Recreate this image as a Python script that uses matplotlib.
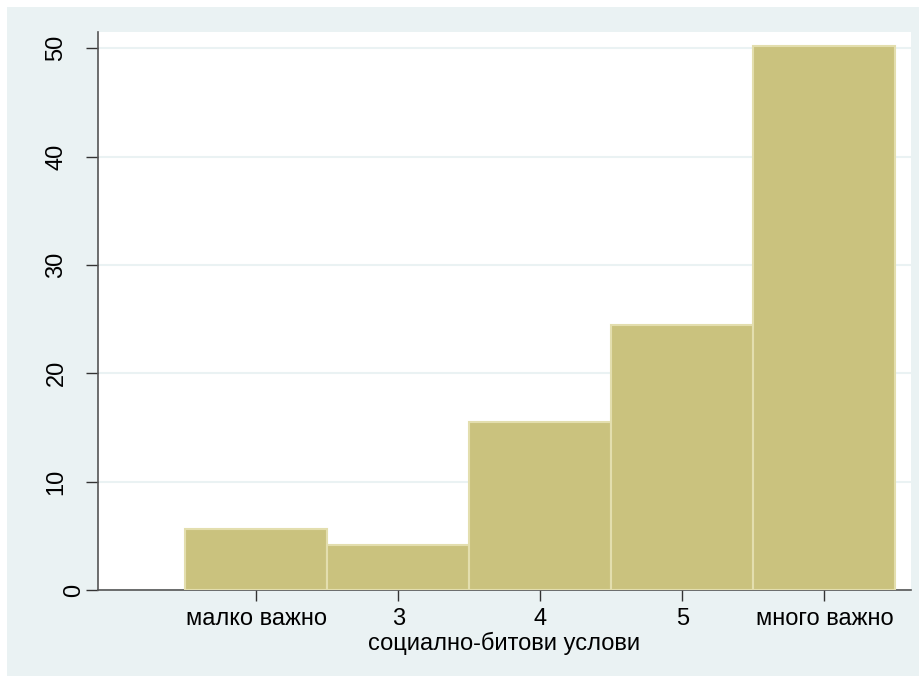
import matplotlib
matplotlib.use("Agg")
import matplotlib.pyplot as plt
from matplotlib.patches import Rectangle
import matplotlib.transforms as mtransforms

categories = [2, 3, 4, 5, 6]
tick_labels = ["малко важно", "3", "4", "5", "много важно"]
percent = [5.6, 4.2, 15.5, 24.5, 50.2]
y_ticks = [0, 10, 20, 30, 40, 50]
x_title = "социално-битови услови"

plt.rcParams['font.family'] = ['Liberation Sans', 'DejaVu Sans']

bg = "#EAF2F3"
fig = plt.figure(figsize=(9.2, 6.76), dpi=100, facecolor="white")
fig.patches.append(Rectangle((7/920, 0), 1 - 7/920, 1 - 7/676, transform=fig.transFigure,
                             facecolor=bg, edgecolor="none", zorder=-10))
ax = fig.add_axes([0.1065, 0.1272, 0.8835, 0.8255])
ax.set_facecolor("white")

ax.bar(categories, percent, width=1.0, color="#CAC27E", edgecolor="#E3DEAE",
       linewidth=1.5, zorder=3)

ax.set_xlim(0.887, 6.608)
ax.set_ylim(0, 51.5)
ax.set_yticks(y_ticks)
ax.set_yticklabels([str(v) for v in y_ticks], rotation=90, va="center", fontsize=17)
ax.set_xticks(categories)
ax.set_xticklabels(tick_labels, fontsize=17)
ax.set_xlabel(x_title, fontsize=17, labelpad=1)

ax.yaxis.grid(True, color=bg, linewidth=1.5, zorder=0)
ax.set_axisbelow(True)
for s in ["top", "right"]:
    ax.spines[s].set_visible(False)
ax.spines["left"].set_color("#555555")
ax.spines["bottom"].set_color("#555555")
ax.spines["left"].set_linewidth(1.2)
ax.spines["bottom"].set_linewidth(1.2)
ax.tick_params(axis="y", length=9, width=1, color="#333333", pad=13)
ax.tick_params(axis="x", length=8, width=1, color="#333333", pad=5)

# single-digit label sits closer to the axis (as in the reference)
for lab in ax.get_yticklabels():
    if len(lab.get_text()) == 1:
        off = mtransforms.ScaledTranslation(18 / 100, 0, fig.dpi_scale_trans)
        lab.set_transform(lab.get_transform() + off)

fig.savefig("out.png", dpi=100, facecolor="white")
